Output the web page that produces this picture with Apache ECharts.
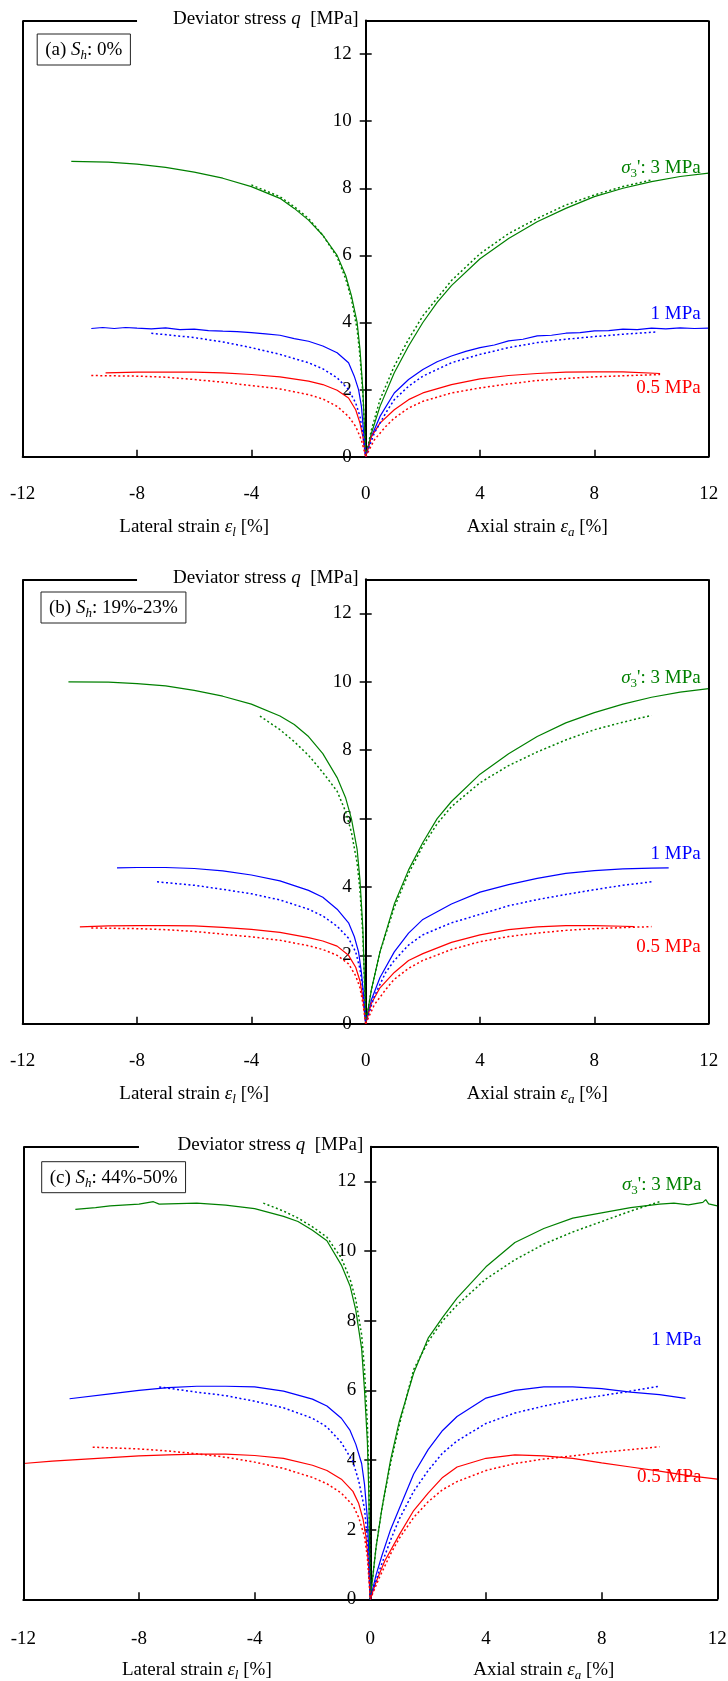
<!DOCTYPE html>
<html>
<head>
<meta charset="utf-8">
<script src="https://cdn.jsdelivr.net/npm/echarts@6/dist/echarts.min.js"></script>
<style>
  html, body { margin: 0; padding: 0; background: #fff; }
  #chart { width: 728px; height: 1681px; }
</style>
</head>
<body>
<div id="chart"></div>
<script>
// ---------- axes ----------
const xTicks = [-12, -8, -4, 0, 4, 8, 12];
const yTicks = [0, 2, 4, 6, 8, 10, 12];
const yTop = 13;

// ---------- panel captions ----------
const panelTags = ['(a)', '(b)', '(c)'];
const panelSh = ['0%', '19%-23%', '44%-50%'];
const pressureNames = ['3 MPa', '1 MPa', '0.5 MPa'];

// ---------- (a) Sh 0% : [strain %, q MPa]; lateral strain plotted negative ----------
const a3LatExp = [[-10.3,8.8],[-9,8.78],[-8,8.72],[-7,8.62],[-6,8.48],[-5,8.3],[-4,8.05],[-3,7.7],[-2.5,7.4],[-2,7.05],[-1.5,6.6],[-1,6.0],[-0.7,5.4],[-0.5,4.8],[-0.3,4.0],[-0.2,3.2],[-0.1,2.0],[-0.05,1.0],[0,0]];
const a3LatSim = [[-4,8.1],[-3,7.75],[-2.5,7.45],[-2,7.1],[-1.5,6.6],[-1,5.95],[-0.7,5.3],[-0.5,4.7],[-0.3,3.8],[-0.2,3.0],[-0.1,1.9],[-0.05,1.0],[0,0]];
const a3AxExp = [[0,0],[0.2,0.7],[0.5,1.5],[1,2.5],[1.5,3.3],[2,4.0],[2.5,4.6],[3,5.1],[4,5.9],[5,6.5],[6,7.0],[7,7.4],[8,7.75],[9,8.0],[10,8.2],[11,8.35],[12,8.45]];
const a3AxSim = [[0,0],[0.2,0.8],[0.5,1.7],[1,2.7],[1.5,3.5],[2,4.2],[3,5.25],[4,6.05],[5,6.65],[6,7.1],[7,7.5],[8,7.8],[9,8.05],[10,8.25]];
const a1LatExp = [[-9.6,3.82],[-9.2,3.85],[-8.8,3.82],[-8.4,3.85],[-8,3.83],[-7.5,3.81],[-7,3.84],[-6.5,3.79],[-6,3.8],[-5.5,3.76],[-5,3.74],[-4.5,3.73],[-4,3.7],[-3.5,3.66],[-3,3.62],[-2.5,3.52],[-2,3.44],[-1.5,3.3],[-1,3.1],[-0.6,2.8],[-0.4,2.4],[-0.25,2.0],[-0.15,1.5],[-0.08,0.8],[0,0]];
const a1LatSim = [[-7.5,3.68],[-6,3.55],[-5,3.42],[-4,3.25],[-3,3.05],[-2,2.8],[-1.5,2.62],[-1,2.35],[-0.6,2.0],[-0.35,1.6],[-0.2,1.2],[-0.1,0.7],[0,0]];
const a1AxExp = [[0,0],[0.2,0.6],[0.5,1.2],[1,1.9],[1.5,2.3],[2,2.6],[2.5,2.83],[3,3.0],[3.5,3.14],[4,3.25],[4.5,3.33],[5,3.45],[5.5,3.5],[6,3.6],[6.5,3.62],[7,3.68],[7.5,3.7],[8,3.75],[8.5,3.76],[9,3.8],[9.5,3.79],[10,3.83],[10.5,3.81],[11,3.84],[11.5,3.82],[12,3.83]];
const a1AxSim = [[0,0],[0.3,0.7],[0.7,1.3],[1,1.7],[1.5,2.1],[2,2.4],[3,2.8],[4,3.05],[5,3.25],[6,3.4],[7,3.5],[8,3.58],[9,3.65],[10.2,3.72]];
const a05LatExp = [[-9.1,2.5],[-8,2.52],[-6,2.52],[-5,2.5],[-4,2.45],[-3,2.38],[-2,2.25],[-1.5,2.15],[-1,1.98],[-0.6,1.75],[-0.35,1.4],[-0.2,1.0],[-0.1,0.6],[0,0]];
const a05LatSim = [[-9.6,2.42],[-8,2.4],[-7,2.37],[-6,2.3],[-5,2.22],[-4,2.12],[-3,2.02],[-2,1.85],[-1.5,1.72],[-1,1.5],[-0.6,1.2],[-0.35,0.9],[-0.15,0.5],[0,0]];
const a05AxExp = [[0,0],[0.2,0.6],[0.5,1.0],[1,1.4],[1.5,1.7],[2,1.9],[3,2.15],[4,2.32],[5,2.42],[6,2.48],[7,2.52],[8,2.53],[9,2.53],[10.3,2.48]];
const a05AxSim = [[0,0],[0.3,0.5],[0.7,0.9],[1,1.15],[1.5,1.45],[2,1.65],[3,1.9],[4,2.05],[5,2.17],[6,2.27],[7,2.33],[8,2.38],[9,2.41],[10.3,2.45]];

// ---------- (b) Sh 19%-23% ----------
const b3LatExp = [[-10.4,10.0],[-9,9.99],[-8,9.95],[-7,9.88],[-6,9.75],[-5,9.58],[-4,9.35],[-3,9.0],[-2.5,8.75],[-2,8.4],[-1.5,7.9],[-1,7.2],[-0.7,6.6],[-0.5,6.0],[-0.3,5.1],[-0.2,4.2],[-0.1,2.8],[-0.05,1.5],[0,0]];
const b3LatSim = [[-3.7,9.0],[-3,8.6],[-2.5,8.25],[-2,7.85],[-1.5,7.35],[-1,6.8],[-0.7,6.2],[-0.5,5.6],[-0.3,4.7],[-0.2,3.9],[-0.1,2.6],[-0.05,1.4],[0,0]];
const b3AxExp = [[0,0],[0.2,1.0],[0.5,2.1],[1,3.5],[1.5,4.5],[2,5.3],[2.5,6.0],[3,6.5],[4,7.3],[5,7.9],[6,8.4],[7,8.8],[8,9.1],[9,9.35],[10,9.55],[11,9.7],[12,9.8]];
const b3AxSim = [[0,0],[0.2,1.0],[0.5,2.1],[1,3.4],[1.5,4.4],[2,5.2],[2.5,5.85],[3,6.35],[4,7.05],[5,7.55],[6,7.95],[7,8.3],[8,8.6],[9,8.82],[10,9.02]];
const b1LatExp = [[-8.7,4.56],[-8,4.57],[-7,4.57],[-6,4.54],[-5,4.47],[-4,4.35],[-3,4.18],[-2,3.9],[-1.5,3.7],[-1,3.35],[-0.6,2.95],[-0.4,2.55],[-0.25,2.1],[-0.15,1.5],[-0.07,0.8],[0,0]];
const b1LatSim = [[-7.3,4.15],[-6,4.05],[-5,3.93],[-4,3.8],[-3,3.62],[-2,3.35],[-1.5,3.15],[-1,2.85],[-0.6,2.5],[-0.35,2.1],[-0.2,1.6],[-0.1,1.0],[0,0]];
const b1AxExp = [[0,0],[0.2,0.7],[0.5,1.35],[1,2.1],[1.5,2.65],[2,3.05],[3,3.5],[4,3.85],[5,4.07],[6,4.25],[7,4.4],[8,4.48],[9,4.53],[10,4.55],[10.6,4.56]];
const b1AxSim = [[0,0],[0.3,0.8],[0.7,1.5],[1,1.85],[1.5,2.3],[2,2.6],[3,2.95],[4,3.2],[5,3.45],[6,3.63],[7,3.78],[8,3.92],[9,4.05],[10,4.15]];
const b05LatExp = [[-10.0,2.83],[-9,2.86],[-8,2.87],[-7,2.87],[-6,2.86],[-5,2.82],[-4,2.76],[-3,2.67],[-2,2.52],[-1.5,2.42],[-1,2.27],[-0.6,2.0],[-0.35,1.65],[-0.2,1.25],[-0.1,0.75],[0,0]];
const b05LatSim = [[-9.6,2.8],[-8,2.78],[-7,2.75],[-6,2.7],[-5,2.62],[-4,2.54],[-3,2.44],[-2,2.28],[-1.5,2.17],[-1,2.0],[-0.6,1.75],[-0.35,1.4],[-0.2,1.05],[-0.1,0.6],[0,0]];
const b05AxExp = [[0,0],[0.2,0.6],[0.5,1.05],[1,1.5],[1.5,1.85],[2,2.05],[3,2.38],[4,2.6],[5,2.75],[6,2.83],[7,2.87],[8,2.87],[9,2.85],[9.4,2.84]];
const b05AxSim = [[0,0],[0.3,0.55],[0.7,1.0],[1,1.3],[1.5,1.62],[2,1.85],[3,2.17],[4,2.4],[5,2.55],[6,2.65],[7,2.73],[8,2.78],[9,2.81],[10,2.84]];

// ---------- (c) Sh 44%-50% ----------
const c3LatExp = [[-10.2,11.2],[-9.5,11.25],[-9,11.3],[-8,11.35],[-7.5,11.42],[-7.3,11.35],[-6,11.38],[-5,11.32],[-4,11.22],[-3,11.0],[-2.5,10.85],[-2,10.6],[-1.5,10.3],[-1,9.6],[-0.7,9.0],[-0.5,8.3],[-0.3,7.2],[-0.2,6.0],[-0.1,4.5],[-0.05,3.0],[0,0]];
const c3LatSim = [[-3.7,11.38],[-3,11.15],[-2.5,10.95],[-2,10.7],[-1.5,10.4],[-1,9.8],[-0.7,9.2],[-0.5,8.6],[-0.3,7.6],[-0.2,6.6],[-0.1,5.0],[-0.05,3.5],[0,0]];
const c3AxExp = [[0,0],[0.2,1.5],[0.4,2.6],[0.7,4.0],[1,5.1],[1.5,6.5],[2,7.5],[2.5,8.1],[3,8.65],[4,9.55],[5,10.25],[6,10.65],[7,10.95],[8,11.1],[9,11.25],[10,11.35],[10.5,11.38],[11,11.33],[11.5,11.4],[11.6,11.48],[11.7,11.36],[12,11.3]];
const c3AxSim = [[0,0],[0.2,1.5],[0.4,2.6],[0.7,3.9],[1,5.0],[1.5,6.6],[2,7.4],[2.5,8.0],[3,8.45],[4,9.2],[5,9.75],[6,10.2],[7,10.55],[8,10.85],[9,11.15],[10,11.42]];
const c1LatExp = [[-10.4,5.76],[-9,5.9],[-8,6.0],[-7,6.08],[-6,6.12],[-5,6.12],[-4,6.1],[-3,5.98],[-2,5.75],[-1.5,5.55],[-1,5.2],[-0.7,4.85],[-0.5,4.45],[-0.3,3.9],[-0.2,3.3],[-0.1,2.3],[-0.05,1.3],[0,0]];
const c1LatSim = [[-7.3,6.1],[-6,5.95],[-5,5.85],[-4,5.69],[-3,5.5],[-2,5.2],[-1.5,4.95],[-1,4.5],[-0.6,3.95],[-0.4,3.4],[-0.2,2.6],[-0.1,1.7],[0,0]];
const c1AxExp = [[0,0],[0.2,0.7],[0.4,1.25],[0.7,2.0],[1,2.6],[1.5,3.6],[2,4.3],[2.5,4.85],[3,5.25],[4,5.78],[5,6.0],[6,6.1],[7,6.1],[8,6.05],[9,5.95],[10,5.88],[10.9,5.77]];
const c1AxSim = [[0,0],[0.3,0.8],[0.7,1.7],[1,2.3],[1.5,3.1],[2,3.7],[2.5,4.2],[3,4.55],[4,5.05],[5,5.35],[6,5.55],[7,5.72],[8,5.85],[9,5.98],[10,6.12]];
const c05LatExp = [[-12,3.9],[-11,3.97],[-10,4.02],[-9,4.07],[-8,4.12],[-7,4.15],[-6,4.17],[-5,4.17],[-4,4.13],[-3,4.05],[-2,3.85],[-1.5,3.7],[-1,3.45],[-0.6,3.1],[-0.4,2.75],[-0.25,2.3],[-0.15,1.8],[-0.07,1.1],[0,0]];
const c05LatSim = [[-9.6,4.37],[-8,4.32],[-7,4.26],[-6,4.18],[-5,4.08],[-4,3.94],[-3,3.76],[-2,3.5],[-1.5,3.32],[-1,3.05],[-0.6,2.7],[-0.4,2.35],[-0.2,1.8],[-0.1,1.2],[0,0]];
const c05AxExp = [[0,0],[0.2,0.5],[0.5,1.1],[1,1.85],[1.5,2.55],[2,3.05],[2.5,3.5],[3,3.8],[4,4.05],[5,4.15],[6,4.12],[7,4.05],[8,3.92],[9,3.8],[10,3.68],[11,3.55],[12,3.45]];
const c05AxSim = [[0,0],[0.3,0.6],[0.7,1.3],[1,1.75],[1.5,2.35],[2,2.8],[2.5,3.15],[3,3.38],[4,3.7],[5,3.9],[6,4.03],[7,4.12],[8,4.22],[9,4.3],[10,4.38]];

// ---------- assembly ----------
const FONT = '"Liberation Serif", "Times New Roman", serif';
const COLORS = ['#008000', '#0000ff', '#ff0000'];
const FS = 19;

// curves per panel, ordered 3 / 1 / 0.5 MPa: [lateral exp, lateral sim, axial exp, axial sim]
const panelCurves = [
  [[a3LatExp, a3LatSim, a3AxExp, a3AxSim], [a1LatExp, a1LatSim, a1AxExp, a1AxSim], [a05LatExp, a05LatSim, a05AxExp, a05AxSim]],
  [[b3LatExp, b3LatSim, b3AxExp, b3AxSim], [b1LatExp, b1LatSim, b1AxExp, b1AxSim], [b05LatExp, b05LatSim, b05AxExp, b05AxSim]],
  [[c3LatExp, c3LatSim, c3AxExp, c3AxSim], [c1LatExp, c1LatSim, c1AxExp, c1AxSim], [c05LatExp, c05LatSim, c05AxExp, c05AxSim]]
];

// plot rectangles of the three panels
const grids = [
  { left: 22.7, top: 20.5, width: 686, height: 436.2 },
  { left: 22.7, top: 579.3, width: 686, height: 444.4 },
  { left: 23.3, top: 1146.7, width: 694, height: 452.6 }
];

const richBase = {
  n: { fontFamily: FONT, fontSize: FS, lineHeight: 24, verticalAlign: 'middle' },
  i: { fontFamily: FONT, fontSize: FS, fontStyle: 'italic', lineHeight: 24, verticalAlign: 'middle' },
  s: { fontFamily: FONT, fontSize: 13, fontStyle: 'italic', lineHeight: 14, verticalAlign: 'bottom' },
  d: { fontFamily: FONT, fontSize: 13, lineHeight: 14, verticalAlign: 'bottom' }
};

const xAxes = [], yAxes = [], series = [];
grids.forEach((g, i) => {
  xAxes.push({
    gridIndex: i, type: 'value', min: -12, max: 12, interval: 4,
    axisLine: { onZero: false, lineStyle: { color: '#000', width: 2 } },
    axisTick: { inside: true, length: 7, lineStyle: { color: '#000', width: 1.5 } },
    axisLabel: { margin: i === 2 ? 30 : 28, color: '#000', fontFamily: FONT, fontSize: FS, customValues: xTicks },
    splitLine: { show: false }
  });
  // vertical axis shifted to the middle of the plot (strain = 0), ticks and labels on the left
  yAxes.push({
    gridIndex: i, type: 'value', min: 0, max: yTop, position: 'left', offset: -g.width / 2,
    axisLine: { show: true, onZero: false, lineStyle: { color: '#000', width: 2 } },
    axisTick: { show: true, inside: false, length: 6, customValues: yTicks, lineStyle: { color: '#000', width: 1.5 } },
    axisLabel: { margin: 14, color: '#000', fontFamily: FONT, fontSize: FS, customValues: yTicks },
    splitLine: { show: false },
    name: '{n|Deviator stress }{i|q}{n|  [MPa]}',
    nameLocation: 'end', nameGap: 0, nameMoveOverlap: false,
    nameTextStyle: {
      color: '#000', fontFamily: FONT, fontSize: FS, align: 'right', verticalAlign: 'middle',
      padding: [0, 7, 3, 0], rich: richBase
    }
  });
  // companion axis drawing the right-hand half of each tick
  yAxes.push({
    gridIndex: i, type: 'value', min: 0, max: yTop, position: 'left', offset: -g.width / 2,
    axisLine: { show: false, onZero: false },
    axisTick: { show: true, inside: true, length: 6, customValues: yTicks, lineStyle: { color: '#000', width: 1.5 } },
    axisLabel: { show: false },
    splitLine: { show: false }
  });

  panelCurves[i].forEach((set, k) => {
    set.forEach((data, j) => {
      const sim = j % 2 === 1;
      series.push({
        type: 'line', xAxisIndex: i, yAxisIndex: 2 * i, data,
        symbol: 'none', smooth: false, silent: true, animation: false,
        lineStyle: { color: COLORS[k], width: sim ? 1.5 : 1.2, type: sim ? [2, 2.5] : 'solid' },
        z: sim ? 3 : 2
      });
    });
  });

  // frame: left and right sides, top edge broken by the axis title
  series.push({
    type: 'line', xAxisIndex: i, yAxisIndex: 2 * i, data: [], symbol: 'none', silent: true, animation: false,
    markLine: {
      silent: true, symbol: 'none', animation: false, label: { show: false },
      lineStyle: { color: '#000', width: 2, type: 'solid' },
      data: [
        [{ coord: [-12, 0] }, { coord: [-12, yTop] }],
        [{ coord: [12, 0] }, { coord: [12, yTop] }],
        [{ coord: [-12, yTop] }, { coord: [-8, yTop] }],
        [{ coord: [0, yTop] }, { coord: [12, yTop] }]
      ]
    }
  });
});

const chart = echarts.init(document.getElementById('chart'), null, { renderer: 'canvas' });
chart.setOption({
  animation: false,
  backgroundColor: '#fff',
  grid: grids.map(g => Object.assign({ outerBoundsMode: 'none', containLabel: false }, g)),
  xAxis: xAxes,
  yAxis: yAxes,
  series
});

// ---------- text overlays placed through the axes ----------
const pressureLabelAt = [
  { x: 11.72, q: [8.6, 4.25, 2.05] },
  { x: 11.72, q: [10.1, 4.95, 2.25] },
  { x: 11.45, q: [11.9, 7.45, 3.5] }
];
const captionOffset = [[14.5, 13.5], [18.3, 12.7], [18.4, 15]];

const graphic = [];
grids.forEach((g, i) => {
  const px = (x, y) => chart.convertToPixel({ xAxisIndex: i, yAxisIndex: 2 * i }, [x, y]);
  const corner = px(-12, yTop);
  const base = px(0, 0);

  graphic.push({
    type: 'text', x: corner[0] + captionOffset[i][0], y: corner[1] + captionOffset[i][1], silent: true,
    style: {
      text: '{n|' + panelTags[i] + ' }{i|S}{s|h}{n|: ' + panelSh[i] + '}',
      rich: richBase, fill: '#000', align: 'left', verticalAlign: 'top',
      borderColor: '#222', borderWidth: 1, padding: [4, 8, 3, 8]
    }
  });

  const nameY = base[1] + (i === 2 ? 71 : 70);
  graphic.push({
    type: 'text', x: px(-6, 0)[0], y: nameY, silent: true,
    style: { text: '{n|Lateral strain }{i|ε}{s|l}{n| [%]}', rich: richBase, fill: '#000', align: 'center', verticalAlign: 'middle' }
  });
  graphic.push({
    type: 'text', x: px(6, 0)[0], y: nameY, silent: true,
    style: { text: '{n|Axial strain }{i|ε}{s|a}{n| [%]}', rich: richBase, fill: '#000', align: 'center', verticalAlign: 'middle' }
  });

  pressureNames.forEach((name, k) => {
    const p = px(pressureLabelAt[i].x, pressureLabelAt[i].q[k]);
    const text = k === 0 ? "{i|σ}{d|3}{n|': " + name + '}' : '{n|' + name + '}';
    graphic.push({
      type: 'text', x: p[0], y: p[1], silent: true,
      style: { text, rich: richBase, fill: COLORS[k], align: 'right', verticalAlign: 'middle' }
    });
  });
});
chart.setOption({ graphic });
</script>
</body>
</html>
